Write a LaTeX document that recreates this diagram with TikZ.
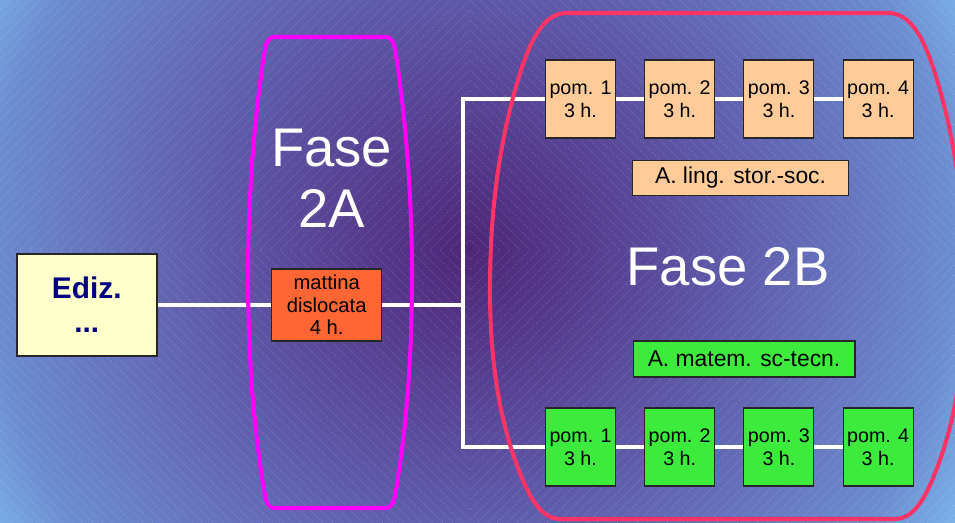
\documentclass[tikz,border=0pt]{standalone}
\usepackage{fontspec}
\setmainfont{Liberation Sans}
\usepackage{tikz}
\usetikzlibrary{calc,positioning}
\usepackage{xcolor}

\definecolor{bgcenter}{RGB}{78,38,120}
\definecolor{bgmid}{RGB}{95,90,170}
\definecolor{bgside}{RGB}{108,140,208}
\definecolor{bgcorner}{RGB}{122,178,232}
\definecolor{peach}{RGB}{255,204,153}
\definecolor{grass}{RGB}{60,235,60}
\definecolor{brick}{RGB}{255,102,51}
\definecolor{paleyellow}{RGB}{255,255,204}
\definecolor{phasemagenta}{RGB}{255,0,255}
\definecolor{phasered}{RGB}{255,51,102}
\definecolor{edizblue}{RGB}{0,0,128}
\pgfdeclareradialshading{backdrop}{\pgfpoint{0bp}{0bp}}{color(0bp)=(bgcenter); color(11.7bp)=(bgmid); color(21.6bp)=(bgside); color(25bp)=(bgcorner); color(50bp)=(bgcorner)}

\begin{document}
\begin{tikzpicture}[x=0.02cm, y=-0.02cm,
    box/.style={draw=black!85, line width=.6pt, inner sep=0pt, align=center},
    pomtop/.style={box, fill=peach, minimum width=1.4cm, minimum height=1.56cm, font=\fontsize{11.2}{13}\selectfont},
    pombot/.style={pomtop, fill=grass},
    areabox/.style={box, minimum height=0.7cm, font=\fontsize{13}{15}\selectfont},
    wire/.style={white, line width=1.9pt},
    phasetext/.style={white, inner sep=0pt, align=center, font=\fontsize{31}{35}\selectfont}]
    \useasboundingbox (0,0) rectangle (955,522);

    % background
    \begin{scope}
      \clip (0,0) rectangle (955,522);
      \shade[shading=backdrop] (470-556,250-556) rectangle (470+556,250+556);
      \foreach \r in {10,20,...,760}
        \draw[white, opacity=.22, line width=.35pt, dash pattern=on .5pt off .7pt]
          (470-\r,250) -- (470,250-\r) -- (470+\r,250) -- (470,250+\r) -- cycle;
    \end{scope}

    % edition and morning
    \node[box, fill=paleyellow, line width=1.1pt, minimum width=2.8cm, minimum height=2.04cm,
          text=edizblue, font=\fontsize{17}{19.3}\selectfont\bfseries] (ediz) at (86.7,305) {Ediz.\\...};
    \node[box, fill=brick, minimum width=2.2cm, minimum height=1.44cm,
          font=\fontsize{11.5}{12.8}\selectfont] (mattina) at (326.7,305) {mattina\\dislocata\\4 h.};

    % afternoons
    \foreach \i in {1,...,4} {
      \node[pomtop] (top\i) at ({580.5+99.2*(\i-1)},99) {pom. \i\\3 h.};
      \node[pombot] (bot\i) at ({580.5+99.2*(\i-1)},447) {pom. \i\\3 h.};
    }
    \node[areabox, fill=peach, minimum width=4.32cm] (ling) at (740.5,178) {A. ling. stor.-soc.};
    \node[areabox, fill=grass, minimum width=4.44cm, minimum height=0.72cm] (matem) at (744,359) {A. matem. sc-tecn.};

    % phase labels
    \node[phasetext] (fase2a) at (331.7,178) {Fase\\2A};
    \node[phasetext, anchor=base] (fase2b) at (728,285) {Fase 2B};

    % connectors
    \coordinate (fork) at (463,305);
    \draw[wire] (ediz) -- (mattina);
    \draw[wire] (mattina) -- (fork);
    \draw[wire] (top1) -| (fork) |- (bot1);
    \foreach \a/\b in {1/2,2/3,3/4} {
      \draw[wire] (top\a) -- (top\b);
      \draw[wire] (bot\a) -- (bot\b);
    }

    % phase 2A
    \draw[phasemagenta, line width=2.3pt] (275,37) -- (385,37)
      .. controls (392,37) and (394,42) .. (396,55)
      .. controls (406,120) and (412,200) .. (412,275)
      .. controls (412,360) and (406,430) .. (396,490)
      .. controls (394,503) and (392,508) .. (385,508) -- (275,508)
      .. controls (268,508) and (266,503) .. (264,490)
      .. controls (254,430) and (248,360) .. (248,275)
      .. controls (248,200) and (254,120) .. (264,55)
      .. controls (266,42) and (268,37) .. (275,37) -- cycle;

    % phase 2B
    \draw[phasered, line width=2.3pt] (567,13) -- (888,13)
      .. controls (910,13) and (924,36) .. (937,80)
      .. controls (958,150) and (965,220) .. (965,290)
      .. controls (965,380) and (950,440) .. (930,485)
      .. controls (921,505) and (910,519) .. (895,519) -- (560,519)
      .. controls (545,519) and (534,505) .. (525,485)
      .. controls (505,440) and (490,380) .. (490,290)
      .. controls (490,220) and (497,150) .. (518,80)
      .. controls (531,36) and (545,13) .. (567,13) -- cycle;
\end{tikzpicture}
\end{document}
